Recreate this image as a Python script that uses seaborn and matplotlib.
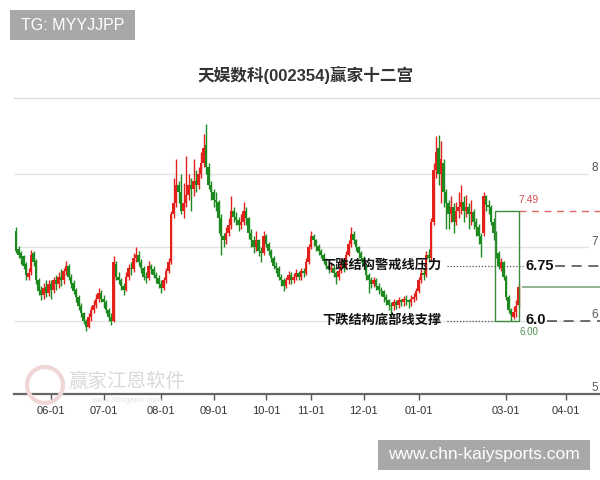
"""天娱数科(002354) 赢家十二宫 candlestick chart with support / pressure annotations."""

import matplotlib

matplotlib.use("Agg")
import matplotlib.pyplot as plt
import matplotlib.transforms as mtransforms
import pandas as pd
import seaborn as sns
from matplotlib.patches import Circle, Rectangle


TITLE = "天娱数科(002354)赢家十二宫"

# daily candles, one entry per trading day
OPENS = [
    7.22, 6.98, 6.92, 6.88, 6.78, 6.60, 6.66, 6.92, 6.82, 6.55,
    6.42, 6.35, 6.46, 6.38, 6.50, 6.42, 6.56, 6.50, 6.60, 6.55,
    6.68, 6.75, 6.60, 6.52, 6.42, 6.32, 6.20, 6.10, 6.00, 5.92,
    6.05, 6.15, 6.22, 6.30, 6.38, 6.30, 6.25, 6.15, 6.05, 6.00,
    6.78, 6.60, 6.55, 6.48, 6.42, 6.60, 6.72, 6.70, 6.85, 6.90,
    6.80, 6.72, 6.60, 6.58, 6.75, 6.70, 6.62, 6.58, 6.50, 6.45,
    6.55, 6.68, 6.80, 7.45, 7.60, 7.85, 7.75, 7.50, 7.60, 7.72,
    7.85, 7.80, 7.90, 7.85, 8.00, 8.15, 8.40, 8.10, 7.85, 7.75,
    7.65, 7.62, 7.40, 7.15, 7.10, 7.20, 7.30, 7.50, 7.42, 7.38,
    7.30, 7.35, 7.50, 7.40, 7.20, 7.10, 7.00, 7.10, 6.95, 6.92,
    7.15, 7.05, 6.95, 6.85, 6.75, 6.72, 6.60, 6.55, 6.48, 6.55,
    6.62, 6.55, 6.60, 6.65, 6.60, 6.68, 6.65, 6.80, 7.00, 7.15,
    7.10, 7.02, 6.95, 6.90, 6.82, 6.75, 6.70, 6.72, 6.65, 6.60,
    6.68, 6.80, 6.72, 6.90, 7.05, 7.18, 7.10, 7.00, 6.92, 6.85,
    6.75, 6.62, 6.55, 6.50, 6.55, 6.48, 6.42, 6.40, 6.32, 6.28,
    6.22, 6.20, 6.25, 6.22, 6.28, 6.25, 6.30, 6.28, 6.25, 6.30,
    6.32, 6.40, 6.55, 6.65, 6.62, 6.90, 6.85, 7.35, 8.05, 8.35,
    8.00, 8.15, 7.75, 7.60, 7.45, 7.55, 7.35, 7.50, 7.55, 7.62,
    7.50, 7.55, 7.45, 7.48, 7.35, 7.28, 7.15, 7.20, 7.70, 7.58,
    7.55, 7.35, 7.20, 6.92, 6.72, 6.80, 6.60, 6.32, 6.15, 6.05,
    6.12, 6.22,
]
CLOSES = [
    6.95, 6.90, 6.85, 6.75, 6.62, 6.65, 6.90, 6.80, 6.55, 6.40,
    6.35, 6.45, 6.38, 6.50, 6.42, 6.55, 6.50, 6.60, 6.55, 6.68,
    6.75, 6.60, 6.50, 6.40, 6.32, 6.20, 6.10, 6.00, 5.92, 6.05,
    6.15, 6.22, 6.30, 6.38, 6.30, 6.25, 6.15, 6.05, 6.00, 6.80,
    6.60, 6.55, 6.48, 6.42, 6.60, 6.72, 6.70, 6.85, 6.90, 6.80,
    6.72, 6.60, 6.58, 6.75, 6.70, 6.62, 6.58, 6.50, 6.45, 6.55,
    6.68, 6.80, 7.45, 7.60, 7.85, 7.75, 7.50, 7.60, 7.72, 7.85,
    7.80, 7.90, 7.85, 8.00, 8.15, 8.35, 8.10, 7.85, 7.75, 7.65,
    7.62, 7.40, 7.15, 7.10, 7.20, 7.30, 7.50, 7.42, 7.38, 7.30,
    7.35, 7.50, 7.40, 7.20, 7.10, 7.00, 7.10, 6.95, 6.92, 7.15,
    7.05, 6.95, 6.85, 6.75, 6.72, 6.60, 6.55, 6.48, 6.55, 6.62,
    6.55, 6.60, 6.65, 6.60, 6.68, 6.65, 6.80, 7.00, 7.15, 7.10,
    7.02, 6.95, 6.90, 6.82, 6.75, 6.70, 6.72, 6.65, 6.60, 6.68,
    6.80, 6.72, 6.90, 7.05, 7.18, 7.10, 7.00, 6.92, 6.85, 6.75,
    6.62, 6.55, 6.50, 6.55, 6.48, 6.42, 6.40, 6.32, 6.28, 6.22,
    6.20, 6.25, 6.22, 6.28, 6.25, 6.30, 6.28, 6.25, 6.30, 6.32,
    6.40, 6.55, 6.65, 6.62, 6.90, 6.85, 7.35, 8.05, 8.30, 8.00,
    8.20, 7.75, 7.60, 7.45, 7.55, 7.35, 7.50, 7.55, 7.62, 7.50,
    7.55, 7.45, 7.48, 7.35, 7.28, 7.15, 7.05, 7.70, 7.58, 7.55,
    7.35, 7.20, 6.92, 6.75, 6.80, 6.60, 6.32, 6.15, 6.08, 6.12,
    6.20, 6.46,
]
HIGHS = [
    7.28, 7.02, 6.95, 6.90, 6.80, 6.72, 6.96, 6.95, 6.84, 6.58,
    6.48, 6.52, 6.55, 6.56, 6.55, 6.60, 6.62, 6.66, 6.70, 6.72,
    6.82, 6.78, 6.64, 6.55, 6.45, 6.35, 6.24, 6.12, 6.03, 6.10,
    6.20, 6.28, 6.36, 6.45, 6.42, 6.35, 6.28, 6.18, 6.10, 6.88,
    6.82, 6.66, 6.58, 6.52, 6.66, 6.78, 6.80, 6.92, 7.00, 6.95,
    6.84, 6.75, 6.66, 6.82, 6.78, 6.74, 6.66, 6.62, 6.55, 6.60,
    6.72, 6.85, 7.50, 7.95, 8.20, 7.90, 8.00, 7.88, 8.25, 8.00,
    7.95, 8.20, 8.05, 8.10, 8.30, 8.55, 8.68, 8.15, 7.90, 7.80,
    7.75, 7.65, 7.45, 7.20, 7.28, 7.40, 7.70, 7.55, 7.48, 7.42,
    7.45, 7.62, 7.55, 7.42, 7.25, 7.15, 7.22, 7.12, 7.00, 7.22,
    7.18, 7.08, 6.98, 6.88, 6.80, 6.75, 6.64, 6.58, 6.60, 6.68,
    6.66, 6.65, 6.70, 6.68, 6.72, 6.72, 6.85, 7.05, 7.22, 7.18,
    7.12, 7.05, 6.98, 6.92, 6.85, 6.78, 6.80, 6.76, 6.68, 6.74,
    6.85, 6.82, 6.95, 7.10, 7.28, 7.22, 7.12, 7.02, 6.95, 6.88,
    6.78, 6.65, 6.60, 6.60, 6.58, 6.52, 6.46, 6.42, 6.36, 6.30,
    6.26, 6.30, 6.28, 6.32, 6.30, 6.34, 6.35, 6.30, 6.35, 6.38,
    6.45, 6.60, 6.70, 6.72, 6.95, 6.98, 7.40, 8.15, 8.52, 8.53,
    8.45, 8.20, 7.80, 7.65, 7.70, 7.60, 7.62, 7.75, 7.85, 7.70,
    7.72, 7.60, 7.65, 7.52, 7.40, 7.32, 7.20, 7.75, 7.72, 7.65,
    7.58, 7.40, 7.22, 6.95, 6.85, 6.82, 6.62, 6.35, 6.18, 6.20,
    6.28, 6.50,
]
LOWS = [
    6.92, 6.85, 6.78, 6.70, 6.55, 6.55, 6.62, 6.75, 6.50, 6.35,
    6.28, 6.30, 6.32, 6.34, 6.30, 6.38, 6.42, 6.45, 6.48, 6.50,
    6.62, 6.55, 6.45, 6.36, 6.26, 6.15, 6.05, 5.95, 5.86, 5.90,
    6.00, 6.10, 6.18, 6.25, 6.25, 6.18, 6.10, 6.00, 5.94, 5.98,
    6.55, 6.50, 6.42, 6.35, 6.40, 6.55, 6.62, 6.66, 6.80, 6.75,
    6.65, 6.55, 6.52, 6.55, 6.64, 6.58, 6.52, 6.45, 6.38, 6.42,
    6.52, 6.65, 6.78, 7.40, 7.55, 7.60, 7.45, 7.40, 7.55, 7.65,
    7.50, 7.70, 7.75, 7.80, 7.95, 8.10, 8.00, 7.80, 7.65, 7.55,
    7.50, 7.20, 6.90, 7.00, 7.05, 7.15, 7.25, 7.35, 7.30, 7.22,
    7.25, 7.30, 7.30, 7.12, 7.00, 6.92, 6.95, 6.88, 6.80, 6.90,
    7.00, 6.90, 6.80, 6.70, 6.65, 6.55, 6.48, 6.40, 6.45, 6.50,
    6.50, 6.52, 6.56, 6.55, 6.56, 6.60, 6.62, 6.78, 6.98, 7.02,
    6.95, 6.90, 6.85, 6.78, 6.70, 6.65, 6.66, 6.60, 6.50, 6.56,
    6.65, 6.66, 6.70, 6.88, 7.00, 7.05, 6.95, 6.85, 6.80, 6.70,
    6.55, 6.38, 6.45, 6.46, 6.42, 6.36, 6.34, 6.26, 6.22, 6.15,
    6.05, 6.15, 6.16, 6.18, 6.20, 6.20, 6.22, 6.18, 6.20, 6.25,
    6.28, 6.38, 6.52, 6.55, 6.60, 6.80, 6.82, 7.30, 7.95, 7.85,
    7.60, 7.55, 7.25, 7.25, 7.35, 7.20, 7.30, 7.40, 7.45, 7.35,
    7.42, 7.25, 7.30, 7.25, 7.15, 7.05, 6.87, 7.15, 7.50, 7.45,
    7.30, 7.10, 6.85, 6.70, 6.68, 6.55, 6.28, 6.10, 6.00, 6.02,
    6.05, 6.18,
]

TICK_POS = [14, 35, 58, 79, 100, 118, 139, 161, 196, 220]
TICK_LABELS = ["06-01", "07-01", "08-01", "09-01", "10-01",
               "11-01", "12-01", "01-01", "03-01", "04-01"]
Y_TICKS = [5, 6, 7, 8]

PRESSURE = 6.75
SUPPORT = 6.0
BOX_HIGH = 7.49
BOX_LOW = 6.00
BOX_START = 191.6
BOX_END = 201.2

UP_COLOR = "#e3201a"
DOWN_COLOR = "#1d8a20"


def build_frame() -> pd.DataFrame:
    df = pd.DataFrame({"open": OPENS, "close": CLOSES, "high": HIGHS, "low": LOWS})
    df["day"] = range(len(df))
    df["up"] = df["close"] >= df["open"]
    df["color"] = df["up"].map({True: UP_COLOR, False: DOWN_COLOR})
    df["bottom"] = df[["open", "close"]].min(axis=1)
    df["body"] = (df["close"] - df["open"]).abs().clip(lower=0.02)
    return df


def draw_candles(ax: plt.Axes, df: pd.DataFrame) -> None:
    ax.vlines(df["day"], df["low"], df["high"], colors=df["color"], lw=1.0, zorder=3)
    ax.bar(df["day"], df["body"], bottom=df["bottom"], width=0.92,
           color=df["color"], linewidth=0, zorder=4)


def draw_levels(ax: plt.Axes, df: pd.DataFrame, x_end: float) -> None:
    dotted = (0, (1, 1.5))
    dashed = (0, (6, 4))
    text_right = 170.4
    ax.hlines(PRESSURE, 172.4, 202.8, colors="#555555", linestyles=dotted, lw=0.9, zorder=2)
    ax.hlines(PRESSURE, 215.6, x_end, colors="#555555", linestyles=dashed, lw=1.2, zorder=2)
    ax.hlines(SUPPORT, 172.4, BOX_START, colors="#555555", linestyles=dotted, lw=0.9, zorder=2)
    ax.hlines(SUPPORT, 212.4, x_end, colors="#555555", linestyles=dashed, lw=1.2, zorder=2)

    ax.text(text_right, PRESSURE, "下跌结构警戒线压力", ha="right", va="center",
            fontsize=9.5, fontweight="bold", color="#111111", zorder=6)
    ax.text(text_right, SUPPORT, "下跌结构底部线支撑", ha="right", va="center",
            fontsize=9.5, fontweight="bold", color="#111111", zorder=6)
    ax.text(203.6, PRESSURE, f"{PRESSURE:.2f}", ha="left", va="center",
            fontsize=10.5, fontweight="bold", color="#111111", zorder=6)
    ax.text(203.6, SUPPORT + 0.01, f"{SUPPORT:.1f}", ha="left", va="center",
            fontsize=10.5, fontweight="bold", color="#111111", zorder=6)

    # decline range box
    ax.add_patch(Rectangle((BOX_START, BOX_LOW), BOX_END - BOX_START, BOX_HIGH - BOX_LOW,
                           fill=False, edgecolor="#3d8b3d", lw=1, zorder=5))
    ax.hlines(BOX_HIGH, BOX_END, x_end, colors="#e06666", linestyles=(0, (5, 4)), lw=1, zorder=2)
    ax.text(200.8, BOX_HIGH + 0.155, f"{BOX_HIGH:.2f}", ha="left", va="center",
            fontsize=7.5, color="#d05050")
    ax.text(205.2, BOX_LOW - 0.085, f"{BOX_LOW:.2f}", ha="center", va="top",
            fontsize=7, color="#4f8f4f")

    # last price line
    ax.hlines(df["close"].iloc[-1], 202.4, x_end, colors="#7fa87f", lw=1.2, zorder=2)


def main() -> None:
    sns.set_style("white")
    plt.rcParams["font.family"] = ["Liberation Sans", "Noto Sans CJK SC", "DejaVu Sans"]

    df = build_frame()
    fig = plt.figure(figsize=(6, 4.8), dpi=100)
    ax = fig.add_axes([14 / 600, 86 / 480, 586 / 600, 296 / 480])

    x_end = 233.6
    ax.set_xlim(-0.8, x_end)
    ax.set_ylim(5, 5 + 296 / 73.3)

    for value in Y_TICKS[1:]:
        ax.axhline(value, xmin=0, xmax=0.98, color="#e4e4e4", lw=1, zorder=0)

    draw_candles(ax, df)
    draw_levels(ax, df, x_end)

    for side in ["left", "right"]:
        ax.spines[side].set_visible(False)
    ax.spines["bottom"].set_color("#666666")
    ax.spines["bottom"].set_linewidth(1.6)
    ax.spines["top"].set_color("#dddddd")
    ax.spines["top"].set_linewidth(1)

    ax.set_xticks(TICK_POS, TICK_LABELS)
    ax.tick_params(axis="x", direction="out", length=4.5, width=1, color="#555555",
                   labelsize=8, labelcolor="#333333", pad=4, bottom=True)
    ax.set_yticks([])

    label_trans = mtransforms.blended_transform_factory(ax.transAxes, ax.transData)
    for value in Y_TICKS:
        ax.text(0.9915, value + 0.08, str(value), transform=label_trans,
                ha="center", va="center", fontsize=8.5, color="#555555")

    fig.text(306 / 600, 1 - 75 / 480, TITLE, ha="center", va="center",
             fontsize=12, fontweight="bold", color="#333333")

    # faint watermark
    fig.add_artist(Circle((0.45, 0.95), 0.18, transform=fig.dpi_scale_trans,
                          fill=False, edgecolor="#f0d6d6", lw=3))
    fig.text(127 / 600, 1 - 382 / 480, "赢家江恩软件", ha="center", va="center",
             fontsize=14, color="#d9d9d9")
    fig.text(127 / 600, 1 - 401 / 480, "www.360gann.com", ha="center", va="center",
             fontsize=6, color="#e2e2e2")

    # overlay tags
    fig.add_artist(Rectangle((10 / 600, 1 - 40 / 480), 125 / 600, 30 / 480,
                             transform=fig.transFigure, facecolor="#a8a8a8", edgecolor="none"))
    fig.text(72.5 / 600, 1 - 25 / 480, "TG: MYYJJPP", ha="center", va="center",
             fontsize=11.5, color="white")
    fig.add_artist(Rectangle((378 / 600, 1 - 470 / 480), 212 / 600, 30 / 480,
                             transform=fig.transFigure, facecolor="#a8a8a8", edgecolor="none"))
    fig.text(484 / 600, 1 - 455 / 480, "www.chn-kaiysports.com", ha="center", va="center",
             fontsize=12.5, color="white")

    fig.savefig("out.png", dpi=100)
    plt.close(fig)


if __name__ == "__main__":
    main()
